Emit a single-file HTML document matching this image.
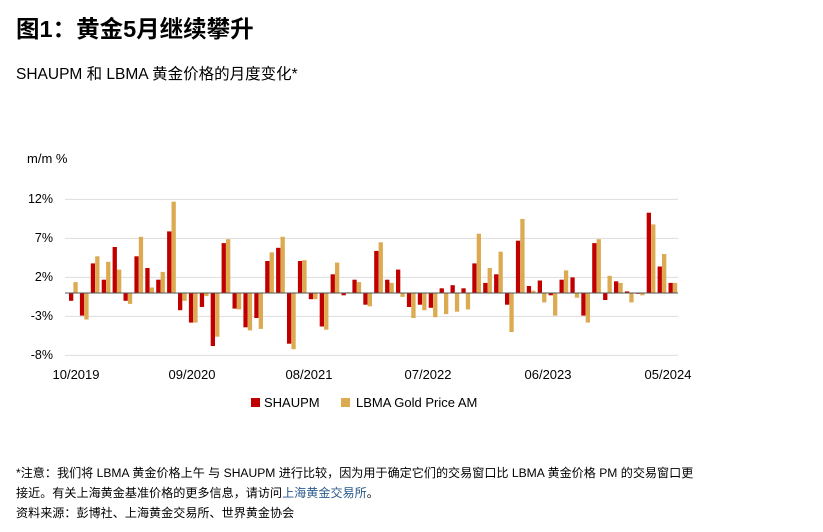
<!DOCTYPE html>
<html><head><meta charset="utf-8"><style>
body{margin:0;width:823px;height:532px;background:#fff;font-family:"Liberation Sans","Noto Sans CJK SC",sans-serif;color:#000;position:relative;overflow:hidden}
.t{position:absolute;white-space:nowrap}
</style></head><body>
<div class="t" style="left:16px;top:10px;font-size:23.5px;font-weight:bold">图1：黄金5月继续攀升</div>
<div class="t" style="left:16px;top:62px;font-size:15.5px">SHAUPM 和 LBMA 黄金价格的月度变化*</div>
<svg id="c" width="823" height="532" style="position:absolute;left:0;top:0" font-family="Liberation Sans, Noto Sans CJK SC, sans-serif">
<text x="27" y="163" font-size="13">m/m %</text>
<g font-size="12.5" text-anchor="end">
<text x="53" y="203">12%</text><text x="53" y="242">7%</text><text x="53" y="281">2%</text><text x="53" y="320">-3%</text><text x="53" y="359">-8%</text>
</g>
<g stroke="#ddd" stroke-width="1">
<line x1="65" x2="678" y1="199.4" y2="199.4"/><line x1="65" x2="678" y1="238.4" y2="238.4"/><line x1="65" x2="678" y1="277.4" y2="277.4"/><line x1="65" x2="678" y1="316.4" y2="316.4"/><line x1="65" x2="678" y1="355.4" y2="355.4"/>
</g>
<g id="bars"></g>
<line x1="65" x2="678" y1="293" y2="293" stroke="#555" stroke-width="1"/>
<g font-size="13" text-anchor="middle">
<text x="76" y="379">10/2019</text><text x="192" y="379">09/2020</text><text x="309" y="379">08/2021</text><text x="428" y="379">07/2022</text><text x="548" y="379">06/2023</text><text x="668" y="379">05/2024</text>
</g>
<rect x="251" y="398" width="9" height="9" fill="#c00000"/><text x="264" y="407" font-size="13">SHAUPM</text>
<rect x="341" y="398" width="9" height="9" fill="#dcaa50"/><text x="356" y="407" font-size="13">LBMA Gold Price AM</text>
</svg>
<div class="t" style="left:16px;top:464px;font-size:12.1px">*注意：我们将 LBMA 黄金价格上午 与 SHAUPM 进行比较，因为用于确定它们的交易窗口比 LBMA 黄金价格 PM 的交易窗口更</div>
<div class="t" style="left:16px;top:484px;font-size:12.1px">接近。有关上海黄金基准价格的更多信息，请访问<span style="color:#2a5a8a">上海黄金交易所</span>。</div>
<div class="t" style="left:16px;top:504px;font-size:12.1px">资料来源：彭博社、上海黄金交易所、世界黄金协会</div>
<script>
var r=[-1.0,-2.9,3.8,1.7,5.9,-1.0,4.7,3.2,1.7,7.9,-2.2,-3.8,-1.8,-6.8,6.4,-2.0,-4.4,-3.2,4.1,5.8,-6.5,4.1,-0.8,-4.3,2.4,-0.3,1.7,-1.5,5.4,1.7,3.0,-1.8,-1.5,-1.9,0.6,1.0,0.6,3.8,1.3,2.4,-1.5,6.7,0.9,1.6,-0.3,1.7,2.0,-2.9,6.4,-0.9,1.5,0.2,-0.1,10.3,3.4,1.3];
var g=[1.4,-3.4,4.7,4.0,3.0,-1.4,7.2,0.7,2.7,11.7,-1.0,-3.8,-0.4,-5.6,6.9,-2.1,-4.8,-4.6,5.2,7.2,-7.2,4.2,-0.8,-4.7,3.9,0.1,1.4,-1.7,6.5,1.3,-0.5,-3.2,-2.2,-3.1,-2.7,-2.4,-2.1,7.6,3.2,5.3,-5.0,9.5,0.3,-1.2,-2.9,2.9,-0.6,-3.8,6.9,2.2,1.3,-1.2,-0.3,8.8,5.0,1.3];
var s='';
function b(x,v,c){var y=293-7.8*Math.max(v,0),h=Math.abs(v)*7.8;return '<rect x="'+x.toFixed(1)+'" y="'+y.toFixed(1)+'" width="4.3" height="'+h.toFixed(1)+'" fill="'+c+'"/>';}
for(var i=0;i<56;i++){var x=69+10.9*i;s+=b(x,r[i],'#c00000')+b(x+4.4,g[i],'#dcaa50');}
document.getElementById('bars').innerHTML=s;
</script>
</body></html>
